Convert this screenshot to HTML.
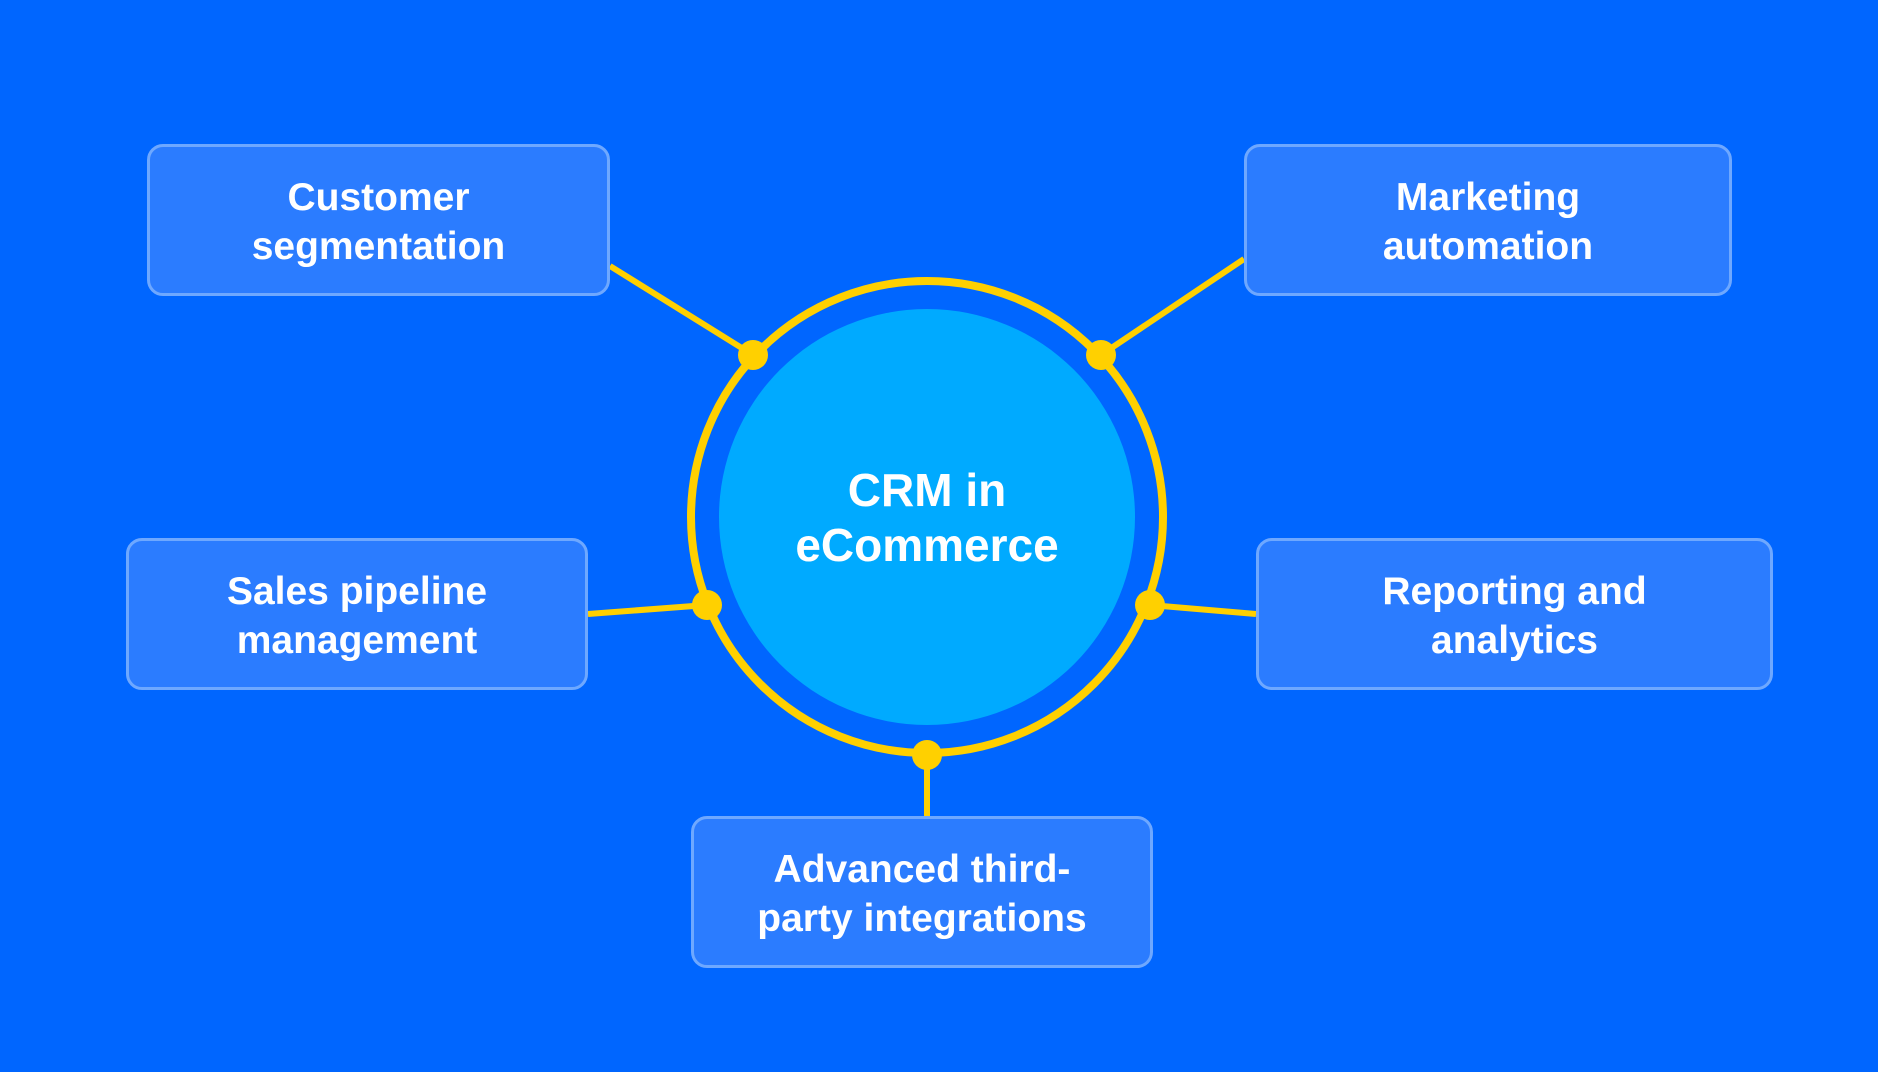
<!DOCTYPE html>
<html><head><meta charset="utf-8"><style>
html,body{margin:0;padding:0;}
body{width:1878px;height:1072px;background:#0066ff;position:relative;overflow:hidden;font-family:"Liberation Sans",Arial,sans-serif;}
.b{position:absolute;box-sizing:border-box;background:#2b7cff;border:3px solid #6ea8ff;border-radius:16px;color:#fff;font-weight:bold;font-size:39px;line-height:49px;display:flex;align-items:center;justify-content:center;text-align:center;padding-top:4px;}
svg{position:absolute;left:0;top:0;}
.c{position:absolute;left:719px;top:309px;width:416px;height:416px;display:flex;align-items:center;justify-content:center;text-align:center;color:#fff;font-weight:bold;font-size:46px;line-height:55px;padding-top:2px;box-sizing:border-box;}
</style></head><body>
<svg width="1878" height="1072">
<g stroke="#ffd000" stroke-width="6" fill="none">
<line x1="610" y1="266" x2="753" y2="355"/>
<line x1="1244" y1="259" x2="1101" y2="355"/>
<line x1="588" y1="614" x2="707" y2="605"/>
<line x1="1256" y1="614" x2="1150" y2="605"/>
<line x1="927" y1="755" x2="927" y2="816"/>
<circle cx="927" cy="517" r="236" stroke-width="8"/>
</g>
<circle cx="927" cy="517" r="208" fill="#00aaff"/>
<g fill="#ffd000">
<circle cx="753" cy="355" r="15"/><circle cx="1101" cy="355" r="15"/>
<circle cx="707" cy="605" r="15"/><circle cx="1150" cy="605" r="15"/>
<circle cx="927" cy="755" r="15"/>
</g>
</svg>
<div class="c">CRM in<br>eCommerce</div>
<div class="b" style="left:147px;top:144px;width:463px;height:152px;">Customer<br>segmentation</div>
<div class="b" style="left:1244px;top:144px;width:488px;height:152px;">Marketing<br>automation</div>
<div class="b" style="left:126px;top:538px;width:462px;height:152px;">Sales pipeline<br>management</div>
<div class="b" style="left:1256px;top:538px;width:517px;height:152px;">Reporting and<br>analytics</div>
<div class="b" style="left:691px;top:816px;width:462px;height:152px;">Advanced third-<br>party integrations</div>
</body></html>
